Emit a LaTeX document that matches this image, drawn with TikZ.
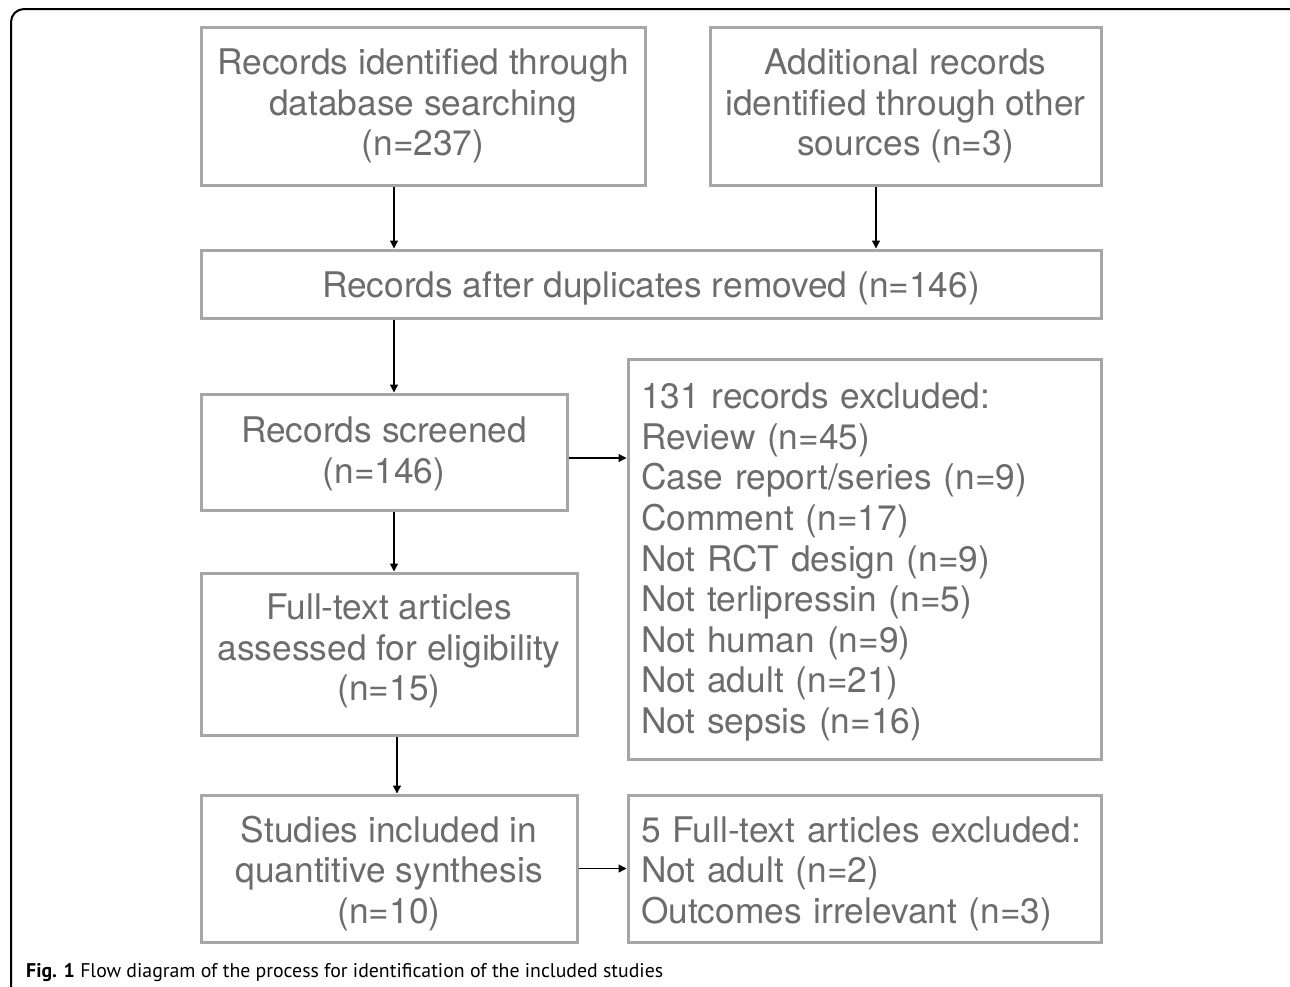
\documentclass[tikz,border=0pt]{standalone}
\usepackage{fontspec}
\setmainfont{TeX Gyre Heros}
\newfontfamily\capfont{PT Sans}
\usetikzlibrary{arrows.meta}
\definecolor{boxgray}{RGB}{166,166,166}
\definecolor{txtgray}{RGB}{108,108,108}
\tikzset{
  box/.style={draw=boxgray, line width=3pt, rectangle, inner sep=0pt},
  txt/.style={inner sep=0pt, align=center, text=txtgray, font=\fontsize{35.3}{40.6}\selectfont},
  ltxt/.style={txt, align=left, text width=447pt},
  arr/.style={-{Triangle[length=8pt,width=8pt]}, line width=1.2pt, draw=black},
  frame/.style={line width=2pt, draw=black, rounded corners=13pt},
}
\begin{document}
\begin{tikzpicture}[x=1pt,y=-1pt]
\useasboundingbox (0,0) rectangle (1290,986);
\draw[frame] (11,995) -- (11,9) -- (1302,9) -- (1302,995);

\node[box, minimum width=444pt, minimum height=158pt] (b1) at (423,106) {};
\node[txt] (t1) at (b1.center)
  {Records identified through\\database searching\\(n=237)};
\node[box, minimum width=391pt, minimum height=158pt] (b2) at (905.5,106) {};
\node[txt] (t2) at (b2.center)
  {Additional records\\identified through other\\sources (n=3)};
\node[box, minimum width=900pt, minimum height=68pt] (b3) at (651,284) {};
\node[txt] (t3) at ([yshift=-4pt]b3.center)
  {Records after duplicates removed (n=146)};
\node[box, minimum width=366pt, minimum height=116pt] (b4) at (384,452) {};
\node[txt] (t4) at ([yshift=-2pt]b4.center)
  {Records screened\\(n=146)};
\node[box, minimum width=473pt, minimum height=400pt] (b5) at (864.5,559) {};
\node[ltxt] (t5) at ([yshift=-3pt]b5.center)
  {131 records excluded:\\Review (n=45)\\Case report/series (n=9)\\Comment (n=17)\\Not RCT design (n=9)\\Not terlipressin (n=5)\\Not human (n=9)\\Not adult (n=21)\\Not sepsis (n=16)};
\node[box, minimum width=376pt, minimum height=162pt] (b6) at (389,654) {};
\node[txt] (t6) at ([yshift=3pt]b6.center)
  {Full-text articles\\assessed for eligibility\\(n=15)};
\node[box, minimum width=376pt, minimum height=147pt] (b7) at (389,868.5) {};
\node[txt] (t7) at ([yshift=-5pt]b7.center)
  {Studies included in\\quantitive synthesis\\(n=10)};
\node[box, minimum width=473pt, minimum height=147pt] (b8) at (864.5,868.5) {};
\node[ltxt] (t8) at ([yshift=-5pt]b8.center)
  {5 Full-text articles excluded:\\Not adult (n=2)\\Outcomes irrelevant (n=3)};

\coordinate (xa) at (394,0);
\coordinate (xb) at (876,0);
\coordinate (xc) at (397,0);
\coordinate (ya) at (0,458);
\draw[arr] (b1.south -| xa) -- (b3.north -| xa);
\draw[arr] (b2.south -| xb) -- (b3.north -| xb);
\draw[arr] (b3.south -| xa) -- (b4.north -| xa);
\draw[arr] (b4.south -| xa) -- (b6.north -| xa);
\draw[arr] (b6.south -| xc) -- (b7.north -| xc);
\draw[arr] (b4.east |- ya) -- (b5.west |- ya);
\draw[arr] (b7.east) -- (b8.west);

\node[anchor=base west, inner sep=0pt, text=black,
  font=\capfont\fontsize{19.8}{24}\selectfont] (cap) at (26,977)
  {\textbf{Fig. 1} Flow diagram of the process for identification of the included studies};
\end{tikzpicture}
\end{document}
